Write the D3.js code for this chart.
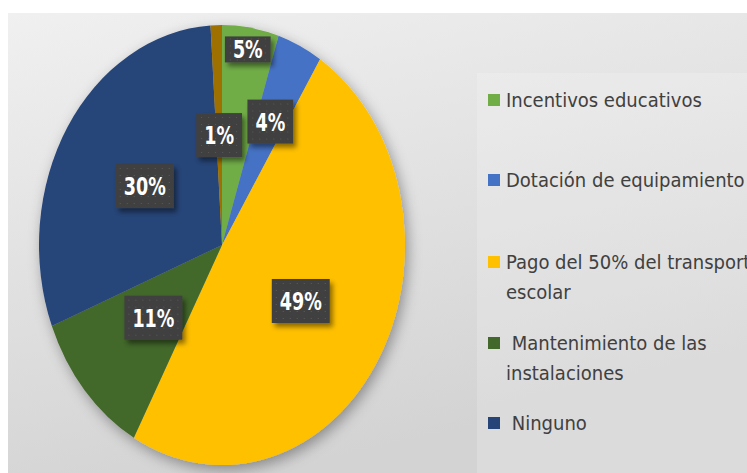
<!DOCTYPE html>
<html>
<head>
<meta charset="utf-8">
<script src="https://cdn.jsdelivr.net/npm/d3@7"></script>
<style>
  html, body { margin: 0; padding: 0; background: #ffffff; }
  svg { display: block; }
</style>
</head>
<body>
<svg id="chart" width="747" height="473"></svg>
<script>
// ---- data ----
const categories = [
  "Incentivos educativos",
  "Dotación de equipamiento",
  "Pago del 50% del transporte escolar",
  "Mantenimiento de las instalaciones",
  "Ninguno",
  "Otros"
];
const values = [5, 4, 49, 11, 30, 1];
const legendLines = [
  ["Incentivos educativos"],
  ["Dotación de equipamiento"],
  ["Pago del 50% del transporte", "escolar"],
  [" Mantenimiento de las", "instalaciones"],
  [" Ninguno"]
];
const colors = ["#70AD47", "#4472C4", "#FFC000", "#43682B", "#264478", "#9E7000"];

// ---- layout/style ----
const W = 747, H = 473;
const cx = 222, cy = 245, rx = 183, ry = 220;
const labelRadius = [0.9, 0.62, 0.5, 0.5, 0.5, 0.5];
const labelBoxH = [26, 44, 44, 44, 44, 44];

const svg = d3.select("#chart");
const defs = svg.append("defs");

const bg = defs.append("linearGradient").attr("id", "bg")
  .attr("x1", 0).attr("y1", 0).attr("x2", 0.35).attr("y2", 1);
bg.append("stop").attr("offset", "0%").attr("stop-color", "#f0f0f0");
bg.append("stop").attr("offset", "100%").attr("stop-color", "#d3d3d3");

const sh = defs.append("filter").attr("id", "pieShadow")
  .attr("x", "-20%").attr("y", "-20%").attr("width", "140%").attr("height", "140%");
sh.append("feDropShadow").attr("dx", 3).attr("dy", 5).attr("stdDeviation", 7)
  .attr("flood-color", "#000").attr("flood-opacity", 0.35);

const lsh = defs.append("filter").attr("id", "lblShadow")
  .attr("x", "-30%").attr("y", "-30%").attr("width", "160%").attr("height", "160%");
lsh.append("feDropShadow").attr("dx", 3).attr("dy", 4).attr("stdDeviation", 2.5)
  .attr("flood-color", "#000").attr("flood-opacity", 0.45);

const pat = defs.append("pattern").attr("id", "dots")
  .attr("width", 7).attr("height", 7).attr("patternUnits", "userSpaceOnUse");
pat.append("rect").attr("width", 7).attr("height", 7).attr("fill", "#404040");
pat.append("rect").attr("x", 3).attr("y", 3).attr("width", 1).attr("height", 1).attr("fill", "#5a5a5a");

// background
svg.append("rect").attr("x", 8).attr("y", 13).attr("width", W - 8).attr("height", H - 13)
  .attr("fill", "url(#bg)");
// legend area
svg.append("rect").attr("x", 477).attr("y", 73).attr("width", W - 477).attr("height", H - 73)
  .attr("fill", "#ffffff").attr("opacity", 0.18);

// pie
const pie = d3.pie().sort(null).value(d => d)(values);
const R = ry;
const arc = d3.arc().innerRadius(0).outerRadius(R);

const pieG = svg.append("g")
  .attr("transform", `translate(${cx},${cy})`)
  .attr("filter", "url(#pieShadow)");
const inner = pieG.append("g").attr("transform", `scale(${rx / R},1)`);
inner.selectAll("path").data(pie).join("path")
  .attr("d", arc)
  .attr("fill", (d, i) => colors[i]);

const fontFam = "'DejaVu Sans Condensed', 'Liberation Sans Narrow', 'DejaVu Sans', sans-serif";

// measure helper for condensing
function measure(str, size, weight) {
  const t = svg.append("text").attr("font-family", fontFam).attr("font-size", size)
    .attr("font-weight", weight).style("font-stretch", "condensed").text(str);
  const w = t.node().getComputedTextLength();
  t.remove();
  return w;
}
const lblSize = 25;
const lblScale = Math.min(1, 42 / measure("49%", lblSize, "bold"));
const legSize = 20;
const legScale = Math.min(1, 200 / measure("Incentivos educativos", legSize, "normal"));

// labels
const lg = svg.append("g");
pie.forEach((d, i) => {
  const a = (d.startAngle + d.endAngle) / 2;
  const k = labelRadius[i];
  const x = cx + Math.sin(a) * rx * k;
  const y = cy - Math.cos(a) * ry * k;
  const txt = d3.format(".0%")(d.value / d3.sum(values));
  const g = lg.append("g").attr("transform", `translate(${x},${y})`);
  const t = g.append("text")
    .attr("text-anchor", "middle").attr("dy", "0.36em")
    .attr("transform", `scale(${lblScale},1)`)
    .attr("font-family", fontFam).attr("font-weight", "bold")
    .style("font-stretch", "condensed")
    .attr("font-size", lblSize).attr("fill", "#ffffff")
    .text(txt);
  const w = t.node().getComputedTextLength() * lblScale + 16;
  const h = labelBoxH[i];
  g.insert("rect", "text")
    .attr("x", -w / 2).attr("y", -h / 2).attr("width", w).attr("height", h)
    .attr("fill", "url(#dots)").attr("filter", "url(#lblShadow)");
});

// legend
const legY = [100, 180, 262, 343, 423];
const leg = svg.append("g");
legendLines.forEach((lines, i) => {
  leg.append("rect").attr("x", 488).attr("y", legY[i] - 6).attr("width", 12).attr("height", 12)
    .attr("fill", colors[i]);
  lines.forEach((ln, j) => {
    leg.append("text")
      .attr("transform", `translate(506,${legY[i] + j * 30}) scale(${legScale},1)`)
      .attr("dy", "0.35em")
      .attr("font-family", fontFam).attr("font-size", legSize)
      .style("font-stretch", "condensed")
      .attr("fill", "#404040")
      .attr("xml:space", "preserve")
      .style("white-space", "pre")
      .text(ln);
  });
});
</script>
</body>
</html>
